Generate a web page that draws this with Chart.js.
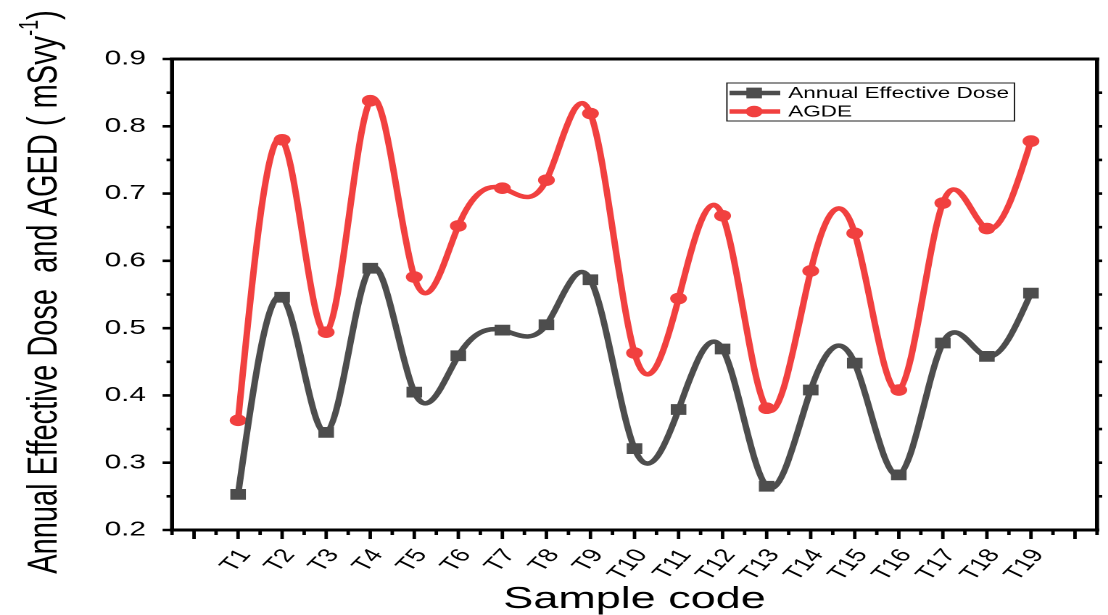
<!DOCTYPE html>
<html>
<head>
<meta charset="utf-8">
<script src="https://cdn.jsdelivr.net/npm/chart.js@4.4.1/dist/chart.umd.min.js"></script>
<style>
  html, body { margin: 0; padding: 0; background: #fff; overflow: hidden; }
  /* the figure is drawn narrow and widened horizontally */
  #wrap { position: absolute; left: 0; top: 0; width: 764px; height: 615px;
          transform: scaleX(1.4503); transform-origin: 0 0; }
</style>
</head>
<body>
<div id="wrap"><canvas id="c"></canvas></div>
<script>
const sampleCodes = ['T1','T2','T3','T4','T5','T6','T7','T8','T9','T10',
                     'T11','T12','T13','T14','T15','T16','T17','T18','T19'];
const annualEffectiveDose = [0.253, 0.546, 0.345, 0.589, 0.405, 0.459, 0.497, 0.505, 0.572, 0.321,
                             0.379, 0.469, 0.265, 0.408, 0.448, 0.282, 0.478, 0.458, 0.552];
const agde = [0.363, 0.780, 0.494, 0.838, 0.576, 0.652, 0.708, 0.720, 0.819, 0.463,
              0.544, 0.667, 0.381, 0.585, 0.641, 0.408, 0.686, 0.648, 0.778];
const yTickValues = [0.2, 0.3, 0.4, 0.5, 0.6, 0.7, 0.8, 0.9];
const seriesNames = ['Annual Effective Dose', 'AGDE'];
const yTitleMain = 'Annual Effective Dose  and AGED ( mSvy';
const yTitleSup = '-1';
const yTitleEnd = ')';
const xTitle = 'Sample code';

const GRAY = '#4d4d4d';
const RED = '#f1403f';
const FONT = "'Liberation Sans', Arial, sans-serif";

// Natural cubic spline through the rendered points, written as bezier control points
const naturalSpline = {
  id: 'naturalSpline',
  beforeDatasetDraw(chart, args) {
    const meta = args.meta;
    const pts = meta.data;
    const n = pts.length;
    if (n < 3) return;
    const h = pts[1].x - pts[0].x;
    const y = pts.map(p => p.y);
    // tridiagonal solve for second derivatives (M0 = Mn-1 = 0)
    const M = new Array(n).fill(0);
    const c = new Array(n).fill(0), d = new Array(n).fill(0);
    for (let i = 1; i < n - 1; i++) {
      const rhs = 6 * (y[i + 1] - 2 * y[i] + y[i - 1]) / (h * h);
      const denom = 4 - (i > 1 ? c[i - 1] : 0);
      c[i] = 1 / denom;
      d[i] = (rhs - (i > 1 ? d[i - 1] : 0)) / denom;
    }
    for (let i = n - 2; i >= 1; i--) {
      M[i] = d[i] - c[i] * (i < n - 2 ? M[i + 1] : 0);
    }
    const slope = [];
    for (let i = 0; i < n - 1; i++) {
      slope[i] = (y[i + 1] - y[i]) / h - h * (2 * M[i] + M[i + 1]) / 6;
    }
    slope[n - 1] = (y[n - 1] - y[n - 2]) / h + h * (M[n - 2] + 2 * M[n - 1]) / 6;
    pts.forEach((p, i) => {
      p.cp1x = p.x - h / 3; p.cp1y = p.y - slope[i] * h / 3;
      p.cp2x = p.x + h / 3; p.cp2y = p.y + slope[i] * h / 3;
    });
    meta.dataset._pointsUpdated = true;
    meta.dataset._path = undefined;
  }
};

// Frame, tick marks, legend and the rotated y title
const decorations = {
  id: 'decorations',
  afterDatasetsDraw(chart) {
    const { ctx, chartArea: a, scales: { x, y } } = chart;
    ctx.save();
    ctx.strokeStyle = '#000';
    ctx.lineCap = 'butt';

    // box
    ctx.lineWidth = 3;
    ctx.beginPath();
    ctx.moveTo(a.left - 1.5, a.top); ctx.lineTo(a.right + 1.5, a.top);
    ctx.moveTo(a.left - 1.5, a.bottom); ctx.lineTo(a.right + 1.5, a.bottom);
    ctx.stroke();
    ctx.lineWidth = 2.8;
    ctx.beginPath();
    ctx.moveTo(a.left, a.top - 1.5); ctx.lineTo(a.left, a.bottom + 1.5);
    ctx.moveTo(a.right, a.top - 1.5); ctx.lineTo(a.right, a.bottom + 1.5);
    ctx.stroke();

    // bottom ticks: major at each sample, minor halfway
    ctx.lineWidth = 2.4;
    ctx.beginPath();
    for (let k = -3; k <= 39; k++) {
      const v = k / 2;
      const px = x.getPixelForValue(v);
      const len = (k % 2 === 0) ? 9 : 5;
      ctx.moveTo(px, a.bottom); ctx.lineTo(px, a.bottom + len);
    }
    ctx.stroke();

    // left ticks (major + minor) and right ticks
    ctx.lineWidth = 2.6;
    ctx.beginPath();
    for (let k = 4; k <= 18; k++) {
      const v = k / 20;
      const py = y.getPixelForValue(v);
      const len = (k % 2 === 0) ? 6.5 : 3.8;
      ctx.moveTo(a.left, py); ctx.lineTo(a.left - len, py);
      if (k > 4 && k < 18) { ctx.moveTo(a.right, py); ctx.lineTo(a.right + 3.6, py); }
    }
    ctx.stroke();

    // legend
    const lx0 = 501.2, lx1 = 699.5, ly0 = 83, ly1 = 121;
    ctx.lineWidth = 1;
    ctx.strokeStyle = '#222';
    ctx.strokeRect(lx0, ly0, lx1 - lx0, ly1 - ly0);
    const rows = [93, 111.5];
    chart.data.datasets.forEach((ds, i) => {
      const ry = rows[i];
      ctx.strokeStyle = ds.borderColor;
      ctx.lineWidth = ds.borderWidth;
      ctx.beginPath(); ctx.moveTo(503, ry); ctx.lineTo(538, ry); ctx.stroke();
      ctx.fillStyle = ds.pointBackgroundColor;
      ctx.strokeStyle = ds.pointBackgroundColor;
      Chart.helpers.drawPoint(ctx, { pointStyle: ds.pointStyle, radius: ds.pointRadius, rotation: 0, borderWidth: 0 }, 520, ry);
      ctx.fillStyle = '#000';
      ctx.font = `15.5px ${FONT}`;
      ctx.textBaseline = 'middle';
      ctx.textAlign = 'left';
      ctx.fillText(ds.label, 543.5, ry + 0.5);
    });

    // y axis title with superscript
    ctx.fillStyle = '#000';
    ctx.translate(29, 292);
    ctx.rotate(-Math.PI / 2);
    const mainFont = `29px ${FONT}`, supFont = `18px ${FONT}`;
    ctx.font = mainFont; const w1 = ctx.measureText(yTitleMain).width;
    const w3 = ctx.measureText(yTitleEnd).width;
    ctx.font = supFont; const w2 = ctx.measureText(yTitleSup).width;
    let sx = -(w1 + w2 + w3) / 2;
    ctx.textAlign = 'left';
    ctx.textBaseline = 'alphabetic';
    ctx.font = mainFont; ctx.fillText(yTitleMain, sx, 10); sx += w1;
    ctx.font = supFont; ctx.fillText(yTitleSup, sx, -3); sx += w2;
    ctx.font = mainFont; ctx.fillText(yTitleEnd, sx, 10);
    ctx.restore();
  }
};

new Chart(document.getElementById('c'), {
  type: 'line',
  data: {
    datasets: [
      {
        label: seriesNames[0],
        data: annualEffectiveDose.map((v, i) => ({ x: i, y: v })),
        borderColor: GRAY, backgroundColor: GRAY, pointBackgroundColor: GRAY,
        borderWidth: 4.5, tension: 0.4, pointStyle: 'rect', pointRadius: 7.6,
        pointBorderWidth: 0, pointHoverRadius: 7.6
      },
      {
        label: seriesNames[1],
        data: agde.map((v, i) => ({ x: i, y: v })),
        borderColor: RED, backgroundColor: RED, pointBackgroundColor: RED,
        borderWidth: 4.5, tension: 0.4, pointStyle: 'circle', pointRadius: 5.8,
        pointBorderWidth: 0, pointHoverRadius: 5.8
      }
    ]
  },
  options: {
    responsive: true,
    maintainAspectRatio: false,
    animation: false,
    devicePixelRatio: 2,
    events: [],
    layout: { padding: { top: 59, right: 4.7, left: 0, bottom: 0 } },
    plugins: { legend: { display: false }, tooltip: { enabled: false } },
    scales: {
      x: {
        type: 'linear', min: -1.5, max: 19.5,
        afterFit(s) { s.height = 85; },
        afterBuildTicks(s) { s.ticks = sampleCodes.map((_, i) => ({ value: i })); },
        grid: { display: false, drawTicks: false },
        border: { display: false },
        ticks: {
          autoSkip: false, minRotation: 55, maxRotation: 55, padding: 15, labelOffset: 5,
          color: '#000', font: { family: FONT, size: 19 },
          callback: (v) => sampleCodes[v] ?? ''
        },
        title: {
          display: true, text: xTitle, color: '#000',
          font: { family: FONT, size: 31, lineHeight: 1 },
          padding: { top: 0, bottom: 0 }
        }
      },
      y: {
        min: 0.2, max: 0.9,
        afterFit(s) { s.width = 118.6; },
        afterBuildTicks(s) { s.ticks = yTickValues.map(v => ({ value: v })); },
        grid: { display: false, drawTicks: false },
        border: { display: false },
        ticks: {
          padding: 18, color: '#000', font: { family: FONT, size: 20.5 },
          callback: (v) => Number(v).toFixed(1)
        }
      }
    }
  },
  plugins: [naturalSpline, decorations]
});
</script>
</body>
</html>
